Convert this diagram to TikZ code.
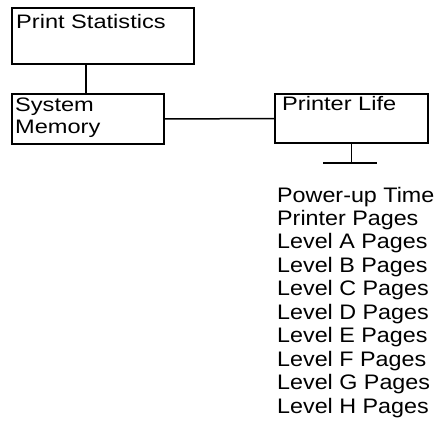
\documentclass[tikz,border=0pt]{standalone}
\usepackage{fontspec}
\setmainfont{Liberation Sans}
\newfontfamily\boxfont[FakeStretch=1.21]{Liberation Sans}
\newfontfamily\listfont[FakeStretch=1.11]{Liberation Sans}
\tikzset{
  box/.style={draw, line width=1.5pt, rectangle, inner sep=0pt},
  boxtext/.style={anchor=base west, inner sep=0pt, font=\boxfont\fontsize{19.5}{22}\selectfont, align=left},
  listtext/.style={anchor=base west, inner sep=0pt, font=\listfont\fontsize{21}{23.44}\selectfont, align=left},
  link/.style={line width=1.5pt}
}
\begin{document}
\begin{tikzpicture}[x=1pt,y=-1pt]
\useasboundingbox (0,0) rectangle (440,423);
\node[box, minimum width=182pt, minimum height=56pt] (ps) at (103,36) {};
\node[box, minimum width=152pt, minimum height=50pt] (sm) at (88,119) {};
\node[box, minimum width=153pt, minimum height=49pt] (pl) at (351.5,118.5) {};
\node[boxtext] (pst) at (16,28) {Print Statistics};
\node[boxtext] (smt) at (15,133) {System\\Memory};
\node[boxtext] (plt) at (282,110) {Printer Life};
\coordinate (j1) at (86,64);
\coordinate (j2) at (86,94);
\draw[link] (j1) -- (j2);
\draw[link] (sm.east) -- (pl.west);
\coordinate (bar) at (351.5,163);
\draw[link] (pl.south) -- (bar);
\coordinate (barl) at (323,163);
\coordinate (barr) at (377,163);
\draw[link] (barl) -- (barr);
\node[listtext] (list) at (277,413) {Power-up Time\\Printer Pages\\Level A Pages\\Level B Pages\\Level C Pages\\Level D Pages\\Level E Pages\\Level F Pages\\Level G Pages\\Level H Pages};
\end{tikzpicture}
\end{document}
